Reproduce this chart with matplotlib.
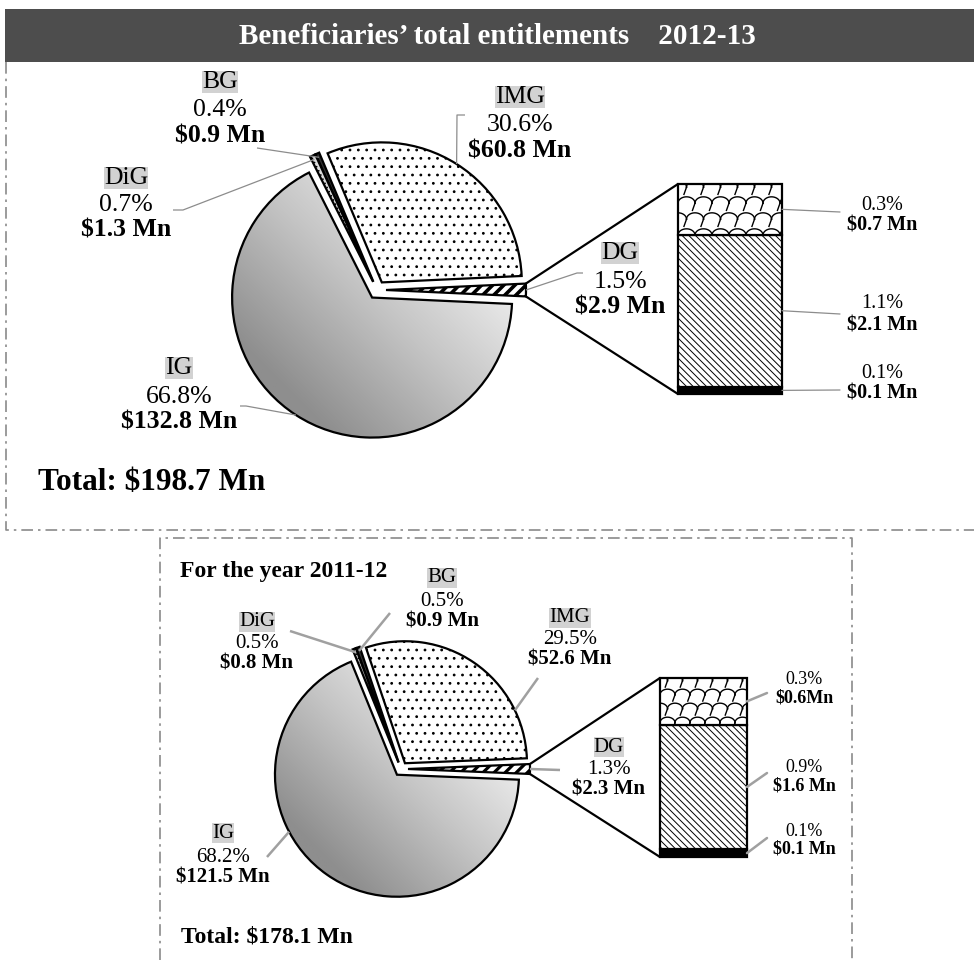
import numpy as np
import matplotlib
matplotlib.use('Agg')
import matplotlib.pyplot as plt
from matplotlib.patches import Rectangle, ConnectionPatch
from matplotlib.lines import Line2D
from matplotlib.colors import LinearSegmentedColormap

# ---------------- data ----------------
categories = ['DG', 'IMG', 'BG', 'DiG', 'IG']
values_2013 = [2.9, 60.8, 0.9, 1.3, 132.8]
pcts_2013 = [1.5, 30.6, 0.4, 0.7, 66.8]
values_2012 = [2.3, 52.6, 0.9, 0.8, 121.5]
pcts_2012 = [1.3, 29.5, 0.5, 0.5, 68.2]

# DG breakdown, bottom -> top
dg_parts_2013 = [0.1, 2.1, 0.7]
dg_pcts_2013 = [0.1, 1.1, 0.3]
dg_labels_2013 = ['$0.1 Mn', '$2.1 Mn', '$0.7 Mn']
dg_parts_2012 = [0.1, 1.6, 0.6]
dg_pcts_2012 = [0.1, 0.9, 0.3]
dg_labels_2012 = ['$0.1 Mn', '$1.6 Mn', '$0.6Mn']

total_2013 = 198.7
total_2012 = 178.1
title_text = 'Beneficiaries\u2019 total entitlements    2012-13'
subtitle_text = 'For the year 2011-12'

# ---------------- setup ----------------
plt.rcParams['font.family'] = ['Liberation Serif', 'DejaVu Serif']
W, H = 974, 960
fig = plt.figure(figsize=(W / 100, H / 100), dpi=100)
ax = fig.add_axes([0, 0, 1, 1])
ax.set_xlim(0, W)
ax.set_ylim(0, H)
ax.axis('off')


def Y(y):
    return H - y


gray_cmap = LinearSegmentedColormap.from_list('g', ['#8e8e8e', '#c4c4c4', '#f4f4f4'])


def draw_pie(vals, center_px, radius, expl_px, stripe_lw):
    cx, cy = center_px[0], Y(center_px[1])
    tot = sum(vals)
    start = -vals[0] / tot * 360 / 2
    wedges, _ = ax.pie(vals, center=(cx, cy), radius=radius, startangle=start,
                       counterclock=True, explode=[expl_px] * len(vals),
                       colors=['white', 'white', '#303030', '#dcdcdc', 'white'],
                       hatch=['///', '..', '', '....', ''],
                       wedgeprops=dict(edgecolor='black', linewidth=1.6))
    for w, hl in zip(wedges, [stripe_lw, 0.8, 0.8, 0.6, 0.8]):
        if hasattr(w, 'set_hatch_linewidth'):
            w.set_hatch_linewidth(hl)
    ig = wedges[4]
    wx, wy = ig.center
    g = np.linspace(-1, 1, 300)
    X, Yg = np.meshgrid(g, g)
    G = (X + Yg) / np.sqrt(2)
    im = ax.imshow(G, extent=(wx - radius, wx + radius, wy - radius, wy + radius),
                   origin='lower', cmap=gray_cmap, vmin=-0.9, vmax=0.9,
                   zorder=0.9, aspect='auto', interpolation='bilinear')
    im.set_clip_path(ig)
    ig.set_facecolor('none')
    ax.set_xlim(0, W)
    ax.set_ylim(0, H)
    ax.set_aspect('auto')
    return wedges


def anchor(w, t=0.5, frac=1.0):
    th = np.deg2rad(w.theta1 + t * (w.theta2 - w.theta1))
    return (w.center[0] + w.r * frac * np.cos(th), w.center[1] + w.r * frac * np.sin(th))


def leader(points_px, wedge, color, lw, t=0.5, frac=1.0):
    xs = [p[0] for p in points_px]
    ys = [Y(p[1]) for p in points_px]
    a = anchor(wedge, t, frac)
    xs.append(a[0])
    ys.append(a[1])
    ax.plot(xs, ys, color=color, lw=lw, zorder=3, solid_capstyle='butt')


def label3(x, ys, name, pct, val, fs):
    ax.text(x, Y(ys[0]), name, fontsize=fs, ha='center', va='center',
            bbox=dict(facecolor='#d2d2d2', edgecolor='none', pad=0.2), zorder=4)
    ax.text(x, Y(ys[1]), f'{pct:.1f}%', fontsize=fs, ha='center', va='center', zorder=4)
    ax.text(x, Y(ys[2]), f'${val:.1f} Mn', fontsize=fs, ha='center', va='center',
            fontweight='bold', zorder=4)


def draw_bar(rect_px, parts, dg_wedge, period, row):
    l, t, r_, b = rect_px
    axb = fig.add_axes([l / W, (H - b) / H, (r_ - l) / W, (b - t) / H])
    axb.axis('off')
    tot = sum(parts)
    bottoms = np.cumsum([0] + list(parts[:-1]))
    bars = axb.bar([0.5] * len(parts), parts, bottom=bottoms, width=1.0,
                   color=['black', 'white', 'white'], edgecolor='black',
                   linewidth=1.6, clip_on=False)
    bars[1].set_hatch('\\\\\\\\\\')
    if hasattr(bars[1], 'set_hatch_linewidth'):
        bars[1].set_hatch_linewidth(0.7)
    axb.set_xlim(0, 1)
    axb.set_ylim(0, tot)
    # scale pattern for top segment
    top = bars[2]
    ext = top.get_window_extent()
    inv = ax.transData.inverted()
    (x0, y0), (x1, y1) = inv.transform([[ext.x0, ext.y0], [ext.x1, ext.y1]])
    tt = np.linspace(0, np.pi, 24)
    rr = period / 2
    i = 0
    y = y1 + row * 0.3
    while y > y0 - row:
        off = (i % 2) * rr
        x = x0 - period + off
        while x < x1 + period:
            ln = Line2D(x + rr * np.cos(tt), y + rr * 0.75 * np.sin(tt) - row * 0.5,
                        color='black', lw=1.0, transform=ax.transData, zorder=3)
            ln2 = Line2D([x + rr, x + rr * 0.7], [y - row * 0.5, y - row * 0.5 - row * 0.45],
                         color='black', lw=1.0, transform=ax.transData, zorder=3)
            for L in (ln, ln2):
                axb.add_line(L)
                L.set_clip_path(top)
            x += period
        y -= row
        i += 1
    axb.set_xlim(0, 1)
    axb.set_ylim(0, tot)
    # connectors to the DG wedge
    c = dg_wedge.center
    for th, yb in ((dg_wedge.theta2, tot), (dg_wedge.theta1, 0)):
        p = (c[0] + dg_wedge.r * np.cos(np.deg2rad(th)), c[1] + dg_wedge.r * np.sin(np.deg2rad(th)))
        con = ConnectionPatch(xyA=p, coordsA=ax.transData, xyB=(0, yb), coordsB=axb.transData,
                              color='black', lw=1.6, zorder=5)
        fig.add_artist(con)
    return axb, bottoms


def bar_labels(axb, parts, bottoms, pcts, vlabels, xlab, ys_px, ends_px, fs, color, lw):
    for p, bt, pc, vl, (ya, yb), (ex, ey) in zip(parts, bottoms, pcts, vlabels, ys_px, ends_px):
        con = ConnectionPatch(xyA=(1, bt + p / 2), coordsA=axb.transData,
                              xyB=(ex, Y(ey)), coordsB=ax.transData, color=color, lw=lw)
        fig.add_artist(con)
        ax.text(xlab, Y(ya), f'{pc:.1f}%', fontsize=fs, ha='center', va='center')
        ax.text(xlab, Y(yb), vl, fontsize=fs, ha='center', va='center', fontweight='bold')


# ---------------- frames & title ----------------
ax.add_patch(Rectangle((5, Y(62)), W - 5, 53, facecolor='#4d4d4d', edgecolor='none', zorder=0))
ax.text(497, Y(36), title_text, color='white', fontsize=21, fontweight='bold',
        ha='center', va='center')
dash = (0, (7, 3, 1.5, 3))
ax.plot([6, 6, W], [Y(62), Y(530), Y(530)], color='#8a8a8a', lw=1.2, linestyle=dash)
ax.plot([160, 160, 852, 852], [Y(960), Y(538), Y(538), Y(960)], color='#8a8a8a', lw=1.2, linestyle=dash)

# ---------------- 2012-13 ----------------
w13 = draw_pie(values_2013, (377, 290), 140, 9, 2.6)
c13 = '#8c8c8c'
leader([(173, 210), (183, 210)], w13[3], c13, 0.9, 0.5, 0.97)
leader([(257, 148)], w13[2], c13, 0.9, 0.5, 0.97)
leader([(465, 115), (457, 115)], w13[1], c13, 0.9, 0.5)
leader([(583, 273), (577, 273)], w13[0], c13, 0.9, 0.5)
leader([(240, 406), (246, 406)], w13[4], c13, 0.9, 0.5)
fs13 = 18.5
label3(220, (82, 110, 136), categories[2], pcts_2013[2], values_2013[2], fs13)
label3(126, (178, 205, 230), categories[3], pcts_2013[3], values_2013[3], fs13)
label3(520, (97, 125, 151), categories[1], pcts_2013[1], values_2013[1], fs13)
label3(620, (253, 282, 307), categories[0], pcts_2013[0], values_2013[0], fs13)
label3(179, (368, 397, 422), categories[4], pcts_2013[4], values_2013[4], fs13)
axb13, bt13 = draw_bar((678, 184, 782, 394), dg_parts_2013, w13[0], 17, 16)
bar_labels(axb13, dg_parts_2013, bt13, dg_pcts_2013, dg_labels_2013, 882,
           [(373, 393), (303, 325), (205, 226)], [(840, 390), (840, 314), (840, 212)],
           14.5, c13, 0.9)
ax.text(38, Y(482), f'Total: ${total_2013:.1f} Mn', fontsize=22.5, fontweight='bold',
        ha='left', va='center')

# ---------------- 2011-12 ----------------
ax.text(180, Y(572), subtitle_text, fontsize=17, fontweight='bold', ha='left', va='center')
w12 = draw_pie(values_2012, (401, 769), 122, 7, 2.3)
lc, lw2 = '#a0a0a0', 1.8
leader([(390, 613)], w12[2], lc, lw2, 0.5, 0.97)
leader([(290, 631)], w12[3], lc, lw2, 0.5, 0.97)
leader([(538, 678)], w12[1], lc, lw2, 0.22)
leader([(560, 770)], w12[0], lc, lw2, 0.5)
leader([(267, 857)], w12[4], lc, lw2, 0.39)
fs12 = 15
label3(442, (578, 602, 622), categories[2], pcts_2012[2], values_2012[2], fs12)
label3(257, (622, 643, 663), categories[3], pcts_2012[3], values_2012[3], fs12)
label3(570, (618, 640, 660), categories[1], pcts_2012[1], values_2012[1], fs12)
label3(609, (747, 770, 790), categories[0], pcts_2012[0], values_2012[0], fs12)
label3(223, (833, 857, 877), categories[4], pcts_2012[4], values_2012[4], fs12)
axb12, bt12 = draw_bar((660, 678, 747, 857), dg_parts_2012, w12[0], 15, 14)
bar_labels(axb12, dg_parts_2012, bt12, dg_pcts_2012, dg_labels_2012, 804,
           [(832, 849), (767, 786), (680, 698)], [(767, 838), (767, 773), (767, 693)],
           13, lc, lw2)
ax.text(181, Y(937), f'Total: ${total_2012:.1f} Mn', fontsize=17, fontweight='bold',
        ha='left', va='center')

fig.savefig('out.png', dpi=100)
